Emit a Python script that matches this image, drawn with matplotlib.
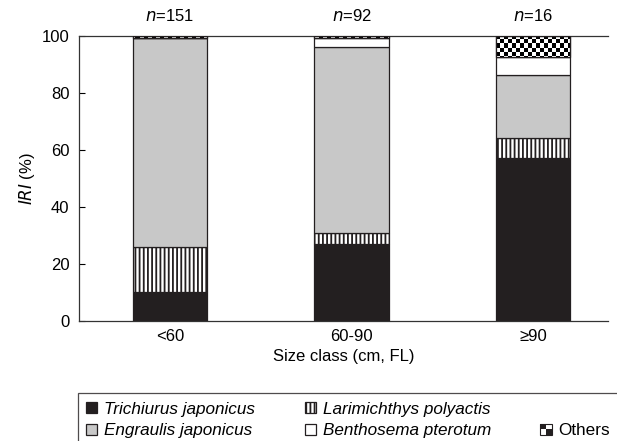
import numpy as np
import matplotlib
matplotlib.use("Agg")
import matplotlib.pyplot as plt
from matplotlib.patches import Rectangle
from matplotlib.legend_handler import HandlerBase

plt.rcParams['font.family'] = ['Liberation Sans', 'DejaVu Sans']
plt.rcParams['font.size'] = 12
plt.rcParams['hatch.linewidth'] = 1.3

size_classes = ['<60', '60-90', '≥90']
sample_n = [151, 92, 16]
species = ['Trichiurus japonicus', 'Larimichthys polyactis', 'Engraulis japonicus',
           'Benthosema pterotum', 'Others']
trichiurus = [10.2, 27.2, 57.1]
larimichthys = [15.7, 3.8, 7.1]
engraulis = [73.6, 65.2, 22.1]
benthosema = [0.0, 3.3, 6.3]
others = [0.5, 0.5, 7.4]

colors = ['#231f20', 'white', '#c8c8c8', 'white', 'white']
hatches = [None, '||||', None, None, None]
dark = '#231f20'

fig = plt.figure(figsize=(6.17, 4.41), dpi=100)
ax = fig.add_axes([0.128, 0.272, 0.857, 0.646])

x = np.arange(len(size_classes))
width = 0.41
bottom = np.zeros(len(x))
series = [trichiurus, larimichthys, engraulis, benthosema, others]
containers = []
for vals, col, h in zip(series, colors, hatches):
    bc = ax.bar(x, vals, width, bottom=bottom, color=col, edgecolor=dark,
                linewidth=0.9, hatch=h, zorder=2)
    containers.append(bc)
    bottom += np.array(vals)

ax.set_xlim(-0.5, 2.41)
ax.set_ylim(0, 100)

# checkerboard fill for "Others", clipped to each bar
x0, x1 = ax.get_xlim()
ny, nx = 71, 132
checker = (np.indices((ny, nx)).sum(axis=0) % 2).astype(float)
for patch in containers[-1]:
    im = ax.imshow(checker, cmap='gray', extent=(x0, x1, 0, 100), aspect='auto',
                   interpolation='nearest', zorder=2.5, origin='lower')
    im.set_clip_path(patch)
    r = Rectangle(patch.get_xy(), patch.get_width(), patch.get_height(),
                  fill=False, edgecolor=dark, linewidth=0.9, zorder=3)
    ax.add_patch(r)
ax.set_xlim(x0, x1)
ax.set_ylim(0, 100)

ax.spines['right'].set_visible(False)
for s in ['left', 'bottom', 'top']:
    ax.spines[s].set_linewidth(0.9)
    ax.spines[s].set_color('#333333')
ax.set_yticks(range(0, 101, 20))
ax.tick_params(axis='y', direction='in', length=4, width=0.8, pad=7)
ax.set_xticks(x)
ax.set_xticklabels(size_classes)
ax.tick_params(axis='x', length=0, pad=6)
ax.set_xlabel('Size class (cm, FL)', labelpad=3)
ax.set_ylabel('$\\mathit{IRI}$ (%)', labelpad=3)

for xi, n in zip(x, sample_n):
    ax.annotate(f'$\\mathit{{n}}$={n}', xy=(xi, 1), xycoords=('data', 'axes fraction'),
                xytext=(0, 9), textcoords='offset points', ha='center', va='bottom')


class CheckerHandler(HandlerBase):
    def create_artists(self, legend, orig_handle, xdescent, ydescent, width, height,
                       fontsize, trans):
        w, h = width, height
        base = Rectangle((-xdescent, -ydescent), w, h, facecolor='white',
                         edgecolor=dark, linewidth=0.8, transform=trans)
        q1 = Rectangle((-xdescent, -ydescent + h / 2), w / 2, h / 2, facecolor=dark,
                       edgecolor='none', transform=trans)
        q2 = Rectangle((-xdescent + w / 2, -ydescent), w / 2, h / 2, facecolor=dark,
                       edgecolor='none', transform=trans)
        return [base, q1, q2]


handles = [containers[0][0], containers[2][0], containers[1][0], containers[3][0],
           Rectangle((0, 0), 1, 1, visible=False), Rectangle((0, 0), 1, 1)]
labels = [species[0], species[2], species[1], species[3], '', species[4]]
leg = fig.legend(handles, labels, ncol=3, loc='upper left', fontsize=12.3,
                 bbox_to_anchor=(0.126, 1 - 393 / 441), frameon=True, fancybox=False,
                 edgecolor=dark, handlelength=0.65, handleheight=0.65, handletextpad=0.4,
                 columnspacing=2.9, borderpad=0.5, labelspacing=0.4, borderaxespad=0,
                 handler_map={handles[-1]: CheckerHandler()})
leg.get_frame().set_linewidth(0.9)
for t in leg.get_texts()[:4]:
    t.set_fontstyle('italic')

fig.savefig('out.png', dpi=100)
